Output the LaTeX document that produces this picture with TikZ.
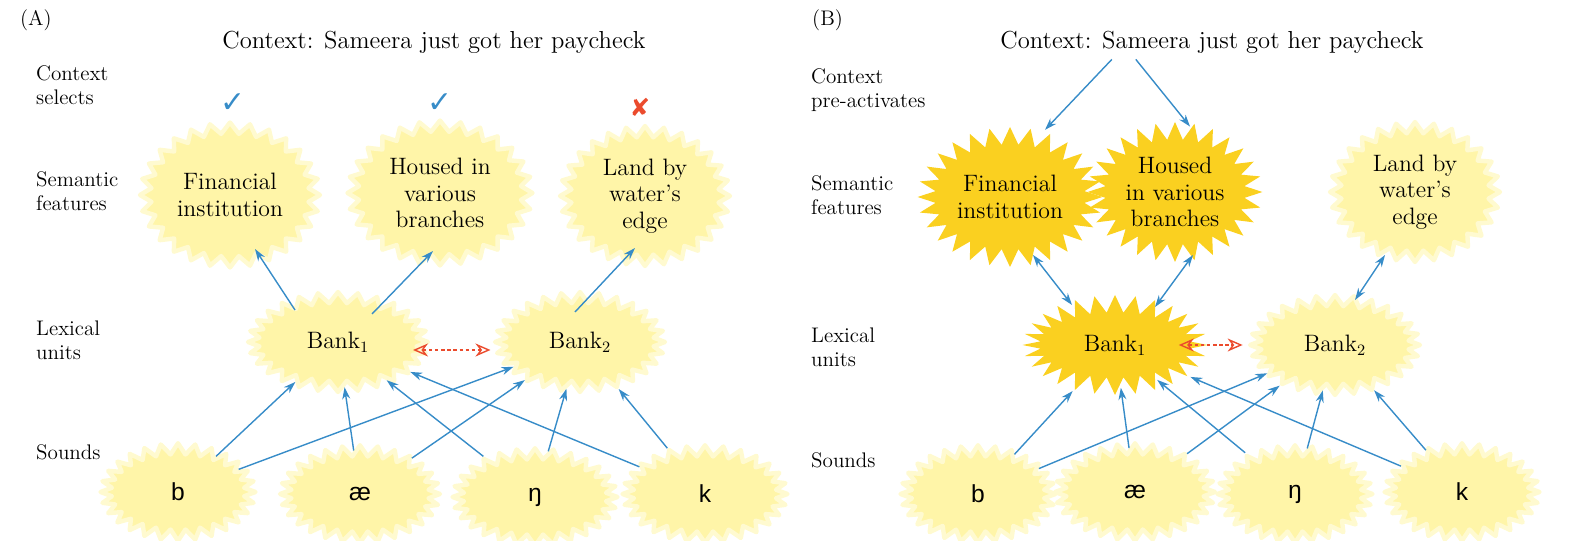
\documentclass[tikz,border=0pt]{standalone}
\usepackage{fontspec}
\newfontfamily\soundfont{Liberation Sans}
\newfontfamily\symfont{DejaVu Sans}
\usetikzlibrary{arrows.meta,shapes.symbols,positioning,calc}
\definecolor{paleyellow}{RGB}{255,245,168}
\definecolor{haloyellow}{RGB}{255,250,208}
\definecolor{goldyellow}{RGB}{250,208,32}
\definecolor{arrowblue}{RGB}{55,140,200}
\definecolor{crossred}{RGB}{235,75,45}

\tikzset{
  burst/.style={starburst, starburst points=28, starburst point height=0.22cm,
    random starburst=0, fill=paleyellow, draw=haloyellow, line width=2.5pt,
    line join=round, align=center, inner sep=0pt,
    font=\fontsize{13.5}{15}\selectfont},
  hot/.style={burst, fill=goldyellow, draw=none, starburst point height=0.35cm},
  sound/.style={burst, minimum width=3.1cm, minimum height=1.95cm,
    font=\soundfont\fontsize{14}{16}\selectfont},
  lbl/.style={anchor=west, align=left, font=\fontsize{12}{13.5}\selectfont},
  title/.style={font=\fontsize{14}{16}\selectfont},
  tick/.style={font=\symfont\fontsize{17}{17}\selectfont},
  link/.style={draw=arrowblue, line width=0.8pt, -{Stealth[length=2.4mm,width=1.6mm]}},
  twoway/.style={link, {Stealth[length=2.4mm,width=1.6mm]}-{Stealth[length=2.4mm,width=1.6mm]}},
  rival/.style={draw=crossred, line width=0.8pt, dash pattern=on 2pt off 1.5pt,
    {Stealth[open,length=3mm,width=2.6mm]}-{Stealth[open,length=3mm,width=2.6mm]}}
}

\begin{document}
\begin{tikzpicture}[x=0.2mm, y=-0.2mm]
\useasboundingbox (0,0) rectangle (1584,541);

% ---- panel A
\node[lbl] (tagA) at (14,20) {(A)};
\node[title] (ctxA) at (434,42) {Context: Sameera just got her paycheck};
\node[lbl] (rowA1) at (30,85) {Context\\selects};
\node[lbl] (rowA2) at (30,191) {Semantic\\features};
\node[lbl] (rowA3) at (30,340) {Lexical\\units};
\node[lbl] (rowA4) at (30,452) {Sounds};

\node[tick, text=arrowblue] (okA1) at (233,103) {✓};
\node[tick, text=arrowblue] (okA2) at (440,103) {✓};
\node[tick, text=crossred, font=\symfont\fontsize{14}{14}\selectfont] (noA3) at (640,107) {✘};

\node[burst, minimum width=3.6cm, minimum height=2.9cm] (finA) at (230,195) {Financial\\institution};
\node[burst, minimum width=3.7cm, minimum height=2.9cm] (houseA) at (440,193) {Housed in\\various\\branches};
\node[burst, minimum width=3.4cm, minimum height=2.8cm] (landA) at (645,196) {Land by\\water’s\\edge};

\node[burst, minimum width=3.6cm, minimum height=2.0cm] (bankA1) at (338,342) {Bank$_1$};
\node[burst, minimum width=3.4cm, minimum height=2.0cm] (bankA2) at (580,342) {Bank$_2$};

\node[sound] (bA) at (178,492) {b};
\node[sound, minimum width=3.2cm] (aeA) at (360,494) {æ};
\node[sound, minimum width=3.3cm] (ngA) at (535,497) {ŋ};
\node[sound, minimum width=3.3cm] (kA) at (705,494) {k};

\draw[link] ($(bankA1)+(-43,-32)$) -- ($(finA)+(25,54)$);
\draw[link] ($(bankA1)+(34,-28)$) -- ($(houseA)+(-7,58)$);
\draw[link] ($(bankA2)+(-5,-30)$) -- ($(landA)+(-10,52)$);
\draw[rival] ($(bankA1)!0.31!(bankA2)+(0,8)$) -- ($(bankA1)!0.63!(bankA2)+(0,8)$);
\foreach \s in {bA,aeA,ngA,kA}{
  \draw[link] (\s) -- (bankA1);
  \draw[link] (\s) -- (bankA2);
}

% ---- panel B
\node[lbl] (tagB) at (806,20) {(B)};
\node[title] (ctxB) at (1212,42) {Context: Sameera just got her paycheck};
\node[lbl] (rowB1) at (805,90) {Context\\pre-activates};
\node[lbl] (rowB2) at (805,195) {Semantic\\features};
\node[lbl] (rowB3) at (805,347) {Lexical\\units};
\node[lbl] (rowB4) at (805,460) {Sounds};

\node[hot, minimum width=3.5cm, minimum height=2.8cm] (finB) at (1010,197) {Financial\\institution};
\node[hot, minimum width=3.4cm, minimum height=2.8cm] (houseB) at (1175,192) {Housed\\in various\\branches};
\node[burst, minimum width=3.4cm, minimum height=2.8cm] (landB) at (1415,192) {Land by\\water’s\\edge};

\node[hot, minimum width=3.7cm, minimum height=2.0cm] (bankB1) at (1115,345) {Bank$_1$};
\node[burst, minimum width=3.4cm, minimum height=2.0cm] (bankB2) at (1335,345) {Bank$_2$};

\node[sound] (bB) at (978,494) {b};
\node[sound, minimum width=3.2cm] (aeB) at (1135,492) {æ};
\node[sound] (ngB) at (1295,494) {ŋ};
\node[sound] (kB) at (1462,492) {k};

\draw[link] ($(ctxB.south west)!0.27!(ctxB.south east)$) -- ($(finB.north)+(35,8)$);
\draw[link] ($(ctxB.south west)!0.325!(ctxB.south east)$) -- ($(houseB.north)+(15,10)$);
\draw[twoway] ($(finB)+(23,58)$) -- ($(bankB1)+(-43,-40)$);
\draw[twoway] ($(houseB)+(18,63)$) -- ($(bankB1)+(40,-38)$);
\draw[twoway] ($(landB)+(-30,63)$) -- ($(bankB2)+(20,-45)$);
\draw[rival] ($(bankB1)!0.29!(bankB2)$) -- ($(bankB1)!0.58!(bankB2)$);
\foreach \s in {bB,aeB,ngB,kB}{
  \draw[link] (\s) -- (bankB1);
  \draw[link] (\s) -- (bankB2);
}
\end{tikzpicture}
\end{document}
